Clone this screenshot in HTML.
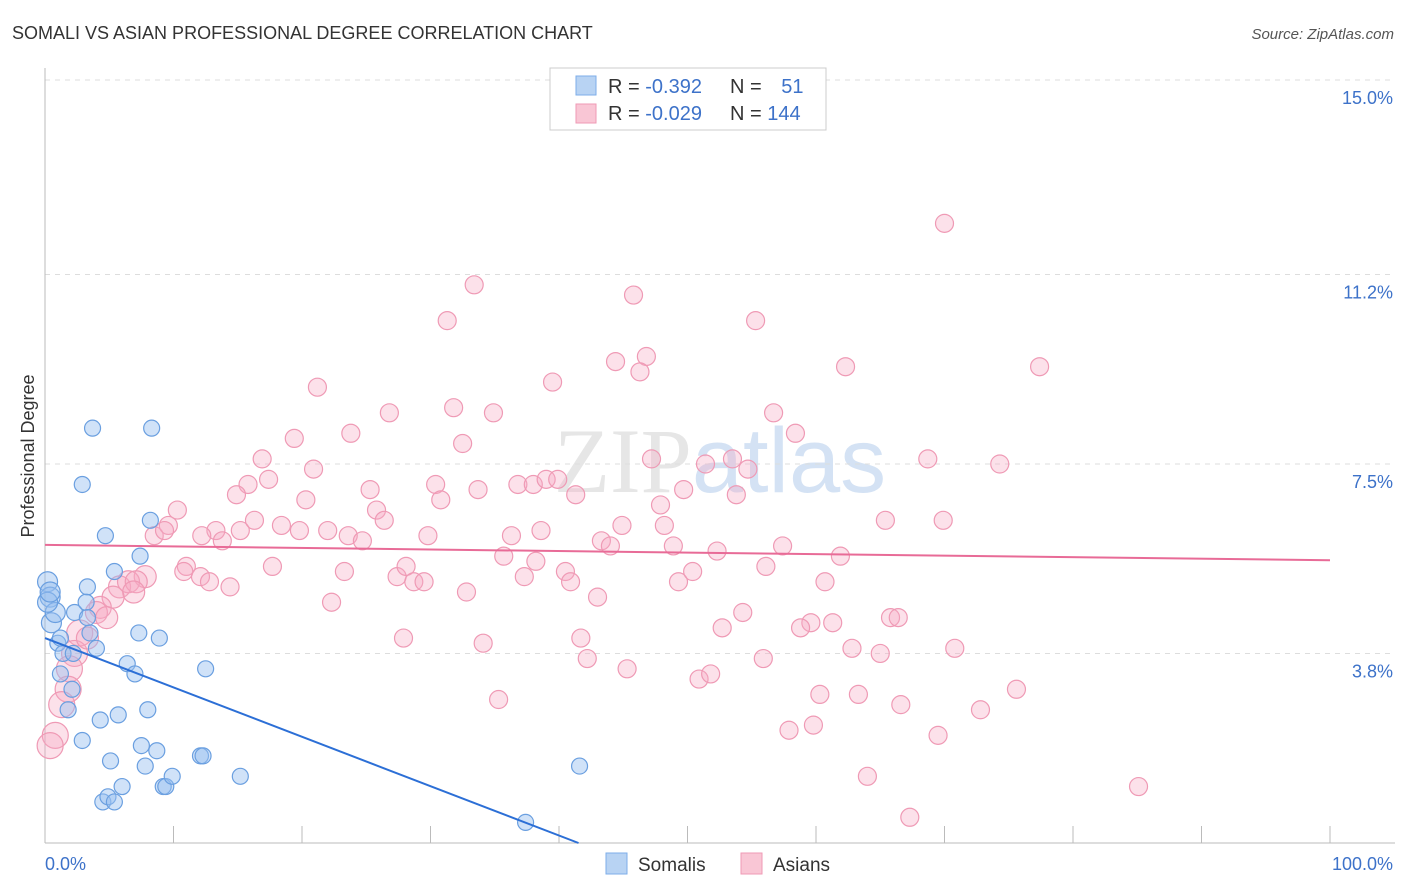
<!DOCTYPE html>
<html><head><meta charset="utf-8"><style>
body{margin:0;background:#fff;font-family:"Liberation Sans",sans-serif;}
svg{display:block}
</style></head><body>
<svg id="chart" width="1406" height="892" xmlns="http://www.w3.org/2000/svg">
<text x="12" y="39" font-size="18" fill="#333">SOMALI VS ASIAN PROFESSIONAL DEGREE CORRELATION CHART</text>
<text x="1394" y="39" font-size="15" fill="#555" text-anchor="end" font-style="italic">Source: ZipAtlas.com</text>
<text x="720" y="492" font-size="92" fill="#e6e6e6" text-anchor="middle" font-family="Liberation Serif,serif">ZIP<tspan fill="#d4e2f4" font-family="Liberation Sans,sans-serif">atlas</tspan></text>
<g id="grid"></g>
<g id="axes"></g>
<g id="pts"></g>
<g id="lines"></g>
<text transform="translate(34,456) rotate(-90)" font-size="18" fill="#333" text-anchor="middle">Professional Degree</text>
<g>
<rect x="550" y="68" width="276" height="62" fill="#fff" stroke="#ccc"/>
<rect x="576" y="76" width="20" height="19" fill="#b8d3f3" stroke="#7eaee8"/>
<rect x="576" y="104" width="20" height="19" fill="#f9c6d5" stroke="#ef9ab5"/>
<text x="608" y="93" font-size="20" fill="#333">R = <tspan fill="#3d72c9">-0.392</tspan></text>
<text x="730" y="93" font-size="20" fill="#333">N = <tspan fill="#3d72c9" dx="14">51</tspan></text>
<text x="608" y="120" font-size="20" fill="#333">R = <tspan fill="#3d72c9">-0.029</tspan></text>
<text x="730" y="120" font-size="20" fill="#333">N = <tspan fill="#3d72c9">144</tspan></text>
</g>
<g>
<rect x="606" y="853" width="21" height="21" fill="#b8d3f3" stroke="#7eaee8"/>
<text x="638" y="871" font-size="19" fill="#333">Somalis</text>
<rect x="741" y="853" width="21" height="21" fill="#f9c6d5" stroke="#ef9ab5"/>
<text x="773" y="871" font-size="19" fill="#333">Asians</text>
</g>
</svg>
<script>
const yTicks=[3.8,7.5,11.2,15.0];
const yTickLabels=["3.8%","7.5%","11.2%","15.0%"];
const xTickCount=10;
const somaliX=[0.2,0.4,0.5,0.8,1.0,1.2,1.4,1.8,2.1,2.3,2.9,2.9,3.3,3.2,3.3,3.5,3.7,4.0,4.3,4.5,4.7,4.9,5.1,5.4,5.4,5.7,6.0,6.4,7.0,7.4,7.3,7.5,7.8,8.0,8.2,8.3,8.7,8.9,9.2,9.4,9.9,12.1,12.3,12.5,15.2,37.4,41.6,0.2,0.4,1.2,2.2];
const somaliY=[5.2,4.9,4.4,4.6,4.0,3.4,3.8,2.7,3.1,4.6,2.1,7.1,5.1,4.8,4.5,4.2,8.2,3.9,2.5,0.9,6.1,1.0,1.7,5.4,0.9,2.6,1.2,3.6,3.4,5.7,4.2,2.0,1.6,2.7,6.4,8.2,1.9,4.1,1.2,1.2,1.4,1.8,1.8,3.5,1.4,0.5,1.6,4.8,5.0,4.1,3.8];
const asianX=[70.0,33.4,45.8,31.3,55.3,44.4,46.8,46.3,62.3,77.4,39.5,21.2,26.8,31.8,34.9,56.7,19.4,23.8,32.5,58.4,53.5,47.2,51.4,54.7,68.7,74.3,16.9,20.9,17.4,15.8,14.9,20.3,25.3,30.4,30.8,33.7,36.8,38.0,39.0,39.9,41.3,49.7,53.8,47.9,10.3,9.6,8.5,9.3,13.3,12.2,13.8,15.2,16.3,18.4,19.8,22.0,23.6,24.7,25.8,26.4,29.8,36.3,38.6,43.3,44.0,44.9,48.2,48.9,52.3,57.4,61.9,65.4,69.9,11.0,10.8,12.1,12.8,7.8,5.8,6.5,7.1,6.9,5.3,4.3,4.0,4.8,22.3,23.3,17.7,27.4,28.1,28.7,29.5,32.8,35.7,37.3,38.2,40.5,40.9,43.0,49.3,50.4,56.1,60.7,54.3,59.6,61.3,58.8,52.7,65.8,66.4,27.9,34.1,41.7,42.2,45.3,50.9,51.8,55.9,62.8,65.0,70.8,35.3,60.3,63.3,66.6,72.8,75.6,57.9,59.8,69.5,64.0,85.1,67.3,14.4,2.7,2.3,1.9,1.8,1.3,0.8,0.4,3.3];
const asianY=[12.2,11.0,10.8,10.3,10.3,9.5,9.6,9.3,9.4,9.4,9.1,9.0,8.5,8.6,8.5,8.5,8.0,8.1,7.9,8.1,7.6,7.6,7.5,7.4,7.6,7.5,7.6,7.4,7.2,7.1,6.9,6.8,7.0,7.1,6.8,7.0,7.1,7.1,7.2,7.2,6.9,7.0,6.9,6.7,6.6,6.3,6.1,6.2,6.2,6.1,6.0,6.2,6.4,6.3,6.2,6.2,6.1,6.0,6.6,6.4,6.1,6.1,6.2,6.0,5.9,6.3,6.3,5.9,5.8,5.9,5.7,6.4,6.4,5.5,5.4,5.3,5.2,5.3,5.1,5.2,5.2,5.0,4.9,4.7,4.6,4.5,4.8,5.4,5.5,5.3,5.5,5.2,5.2,5.0,5.7,5.3,5.6,5.4,5.2,4.9,5.2,5.4,5.5,5.2,4.6,4.4,4.4,4.3,4.3,4.5,4.5,4.1,4.0,4.1,3.7,3.5,3.3,3.4,3.7,3.9,3.8,3.9,2.9,3.0,3.0,2.8,2.7,3.1,2.3,2.4,2.2,1.4,1.2,0.6,5.1,4.2,3.8,3.5,3.1,2.8,2.2,2.0,4.1];
const somaliTrend=[4.1,-0.0964];
const asianTrend=[5.92,-0.0030];
const NS="http://www.w3.org/2000/svg";
const X=v=>45+v*12.85, Y=v=>848-v*51.2;
function mk(p,t,a){const e=document.createElementNS(NS,t);for(const k in a)e.setAttribute(k,a[k]);p.appendChild(e);return e;}
const grid=document.getElementById('grid'),axes=document.getElementById('axes'),pts=document.getElementById('pts'),lines=document.getElementById('lines');
yTicks.forEach((t,i)=>{
 const l=mk(grid,'line',{x1:45,x2:1395,y1:Y(t),y2:Y(t),stroke:'#ddd','stroke-dasharray':'5,5'});
 
 
 const tx=mk(axes,'text',{x:1393,y:Y(t)+24,'font-size':18,fill:'#3d72c9','text-anchor':'end'});
 tx.textContent=yTickLabels[i];
 
 
});
mk(axes,'line',{x1:45,x2:45,y1:68,y2:843,stroke:'#bbb'});
mk(axes,'line',{x1:45,x2:1395,y1:843,y2:843,stroke:'#bbb'});
for(let i=0;i<=xTickCount;i++){const x=X(i*100/xTickCount);const tk=mk(axes,'line',{x1:x,x2:x,y1:826,y2:843,stroke:'#bbb'});
 
 }
let t0=mk(axes,'text',{x:45,y:870,'font-size':18,fill:'#3d72c9'});t0.textContent='0.0%';


let t1=mk(axes,'text',{x:1393,y:870,'font-size':18,fill:'#3d72c9','text-anchor':'end'});t1.textContent='100.0%';


asianX.forEach((x,i)=>{const r=x<3?13:(x<8?11:9);const c=mk(pts,'circle',{cx:X(x),cy:Y(asianY[i]),r:r,fill:'rgba(246,170,195,0.35)',stroke:'#ef9ab5','stroke-width':1.2});
 
 });
somaliX.forEach((x,i)=>{const r=x<1?10:8;const c=mk(pts,'circle',{cx:X(x),cy:Y(somaliY[i]),r:r,fill:'rgba(150,190,240,0.45)',stroke:'#6a9fe0','stroke-width':1.2});
 
 });
const axisVal=(848-843)/51.2;
const xEnd=Math.min((axisVal-somaliTrend[0])/somaliTrend[1],100);
const l1=mk(lines,'line',{x1:X(0),y1:Y(somaliTrend[0]),x2:X(xEnd),y2:Y(somaliTrend[0]+somaliTrend[1]*xEnd),stroke:'#2c6fd6','stroke-width':2});


const l2=mk(lines,'line',{x1:X(0),y1:Y(asianTrend[0]),x2:X(100),y2:Y(asianTrend[0]+asianTrend[1]*100),stroke:'#e86b97','stroke-width':2});


</script>
</body></html>
